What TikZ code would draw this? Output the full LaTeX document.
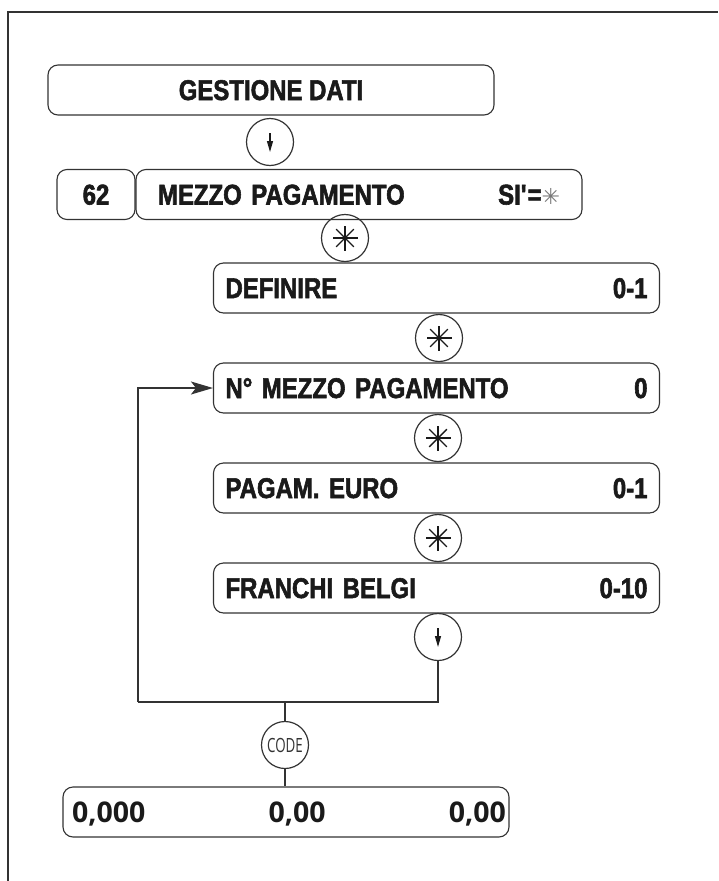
\documentclass[tikz,border=0pt]{standalone}
\usepackage{fontspec}
\setmainfont{Liberation Sans}
\newfontfamily\lblfam{Liberation Sans Bold}[FakeStretch=0.84,FakeBold=2]
\newfontfamily\numfont{Open Sans}
\newfontfamily\codefont{Open Sans}[FakeStretch=0.68]
\newfontfamily\symfont{DejaVu Sans}
\usetikzlibrary{arrows.meta}
\definecolor{linec}{HTML}{333333}
\definecolor{txtc}{HTML}{1A1A1A}
\definecolor{symc}{HTML}{777777}
\newcommand{\lblfont}{\lblfam\fontsize{28.5pt}{29pt}\selectfont}
\newcommand{\digfont}{\numfont\fontsize{28.5pt}{29pt}\selectfont\bfseries}
\begin{document}
\begin{tikzpicture}[x=1pt,y=-1pt,
  box/.style={draw=linec, line width=1.1pt, rounded corners=10pt,
    minimum width=446pt, minimum height=50pt, inner xsep=12pt,
    text height=20pt, text depth=0pt, font=\lblfont, text=txtc},
  lrbox/.style={box, text width=422pt},
  key/.style={draw=linec, line width=1.2pt, circle, minimum size=47pt, inner sep=0pt},
  spoke/.style={line width=1.4pt, draw=txtc},
  conn/.style={draw=linec, line width=1.3pt},
  downtip/.style={line width=1.2pt, draw=txtc, -{Stealth[length=11pt,width=6pt,inset=0pt]}},
  border/.style={draw=linec, line width=1.6pt}
]
\useasboundingbox (0,0) rectangle (718,881);
% page border
\coordinate (bl) at (8,881);
\coordinate (tl) at (8,12);
\coordinate (tr) at (718,12);
\draw[border] (bl) -- (tl) -- (tr);

% boxes
\node[box] (gest) at (271,90) {GESTIONE DATI};
\node[key] (d1) at (270,142) {};
\node[box, minimum width=78pt, inner xsep=0pt] (n62) at (96,194.5) {62};
\node[box, inner xsep=22pt, text width=402pt] (mezzo) at (359,194.5)
  {MEZZO PAGAMENTO\hfill SI\textquotesingle={\symfont\fontsize{22pt}{22pt}\selectfont\color{symc}✳}};
\node[key] (s1) at (345,238) {};
\node[lrbox] (def) at (436.5,288) {DEFINIRE\hfill 0-1};
\node[key] (s2) at (439,338) {};
\node[lrbox] (nmp) at (436.5,388) {N° MEZZO PAGAMENTO\hfill 0};
\node[key] (s3) at (438,438) {};
\node[lrbox] (euro) at (436.5,488) {PAGAM. EURO\hfill 0-1};
\node[key] (s4) at (438,538) {};
\node[lrbox] (fb) at (436.5,588) {FRANCHI BELGI\hfill 0-10};
\node[key] (d2) at (438,637) {};
\node[key, font=\codefont\fontsize{19.6pt}{20pt}\selectfont, text=linec] (code) at (285,745) {CODE};
\node[box, inner xsep=3pt, text width=440pt, text height=21pt, font=\digfont, text=txtc] (disp) at (286,812)
  {\hspace*{6pt}0,000\hfill 0,00\hfill 0,00};

% symbols inside keys
\foreach \k in {s1,s2,s3,s4}{
  \foreach \a in {0,45,90,135}{
    \draw[spoke] ([shift={(\a:12.5)}]\k.center) -- ([shift={(\a+180:12.5)}]\k.center);
  }
}
\foreach \k in {d1,d2}{
  \draw[downtip] ([shift={(0,-9)}]\k.center) -- ([shift={(0,10)}]\k.center);
}

% loop connectors
\coordinate (jr) at (438,702);
\coordinate (jl) at (138,702);
\draw[conn] (d2.south) -- (jr) -- (jl);
\draw[conn, -{Stealth[length=22pt,width=13pt,inset=5pt]}] (jl) |- (nmp.west);
\draw[conn] (code.north) -- (code.north |- jl);
\draw[conn] (code.south) -- (code.south |- disp.north);
\end{tikzpicture}
\end{document}
